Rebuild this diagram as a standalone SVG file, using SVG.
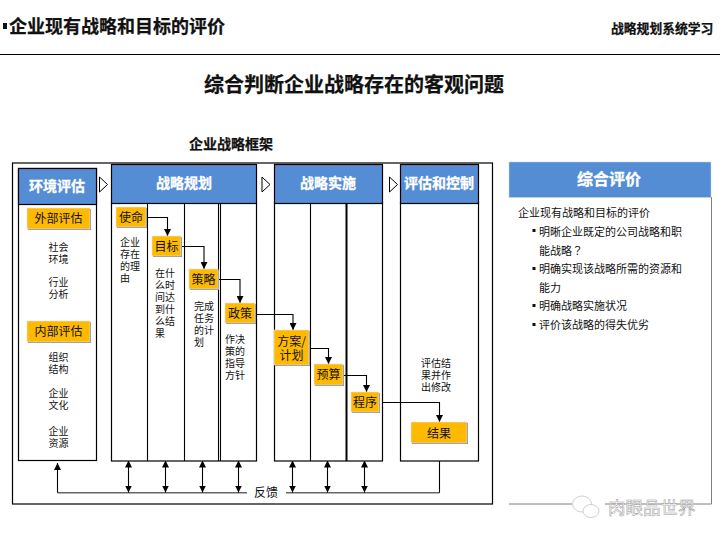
<svg xmlns="http://www.w3.org/2000/svg" width="720" height="540" viewBox="0 0 720 540">
<style>
text{font-family:"Noto Sans CJK SC","Liberation Sans",sans-serif;fill:#111}
.b{font-weight:700;stroke:#111;stroke-width:.25}
.c{text-anchor:middle}
.h{fill:#fff;font-weight:700;font-size:14px;text-anchor:middle;stroke:#fff;stroke-width:.3}
.t{font-size:10px}
.y{font-size:12px;text-anchor:middle}
.r{font-size:11px}
.box{fill:#fff;stroke:#000;stroke-width:1.2}
.hd{fill:#548DD4;stroke:#000;stroke-width:1.2}
.yb{fill:#FFBA00;stroke:#dfe3f2;stroke-width:.6}
.sh{fill:#8088A8}
.ln{fill:none;stroke:#000;stroke-width:1.1}
.fb{fill:none;stroke:#666;stroke-width:1.4}
.tri{fill:#fff;stroke:#000;stroke-width:1}
</style>
<defs>
<marker id="a" markerWidth="8" markerHeight="7" refX="7" refY="3.5" orient="auto" markerUnits="userSpaceOnUse"><path d="M0 0L7 3.5L0 7z" fill="#000"/></marker>
<marker id="s" markerWidth="8" markerHeight="7" refX="1" refY="3.5" orient="auto" markerUnits="userSpaceOnUse"><path d="M7 0L0 3.5L7 7z" fill="#000"/></marker>
</defs>
<rect width="720" height="540" fill="#fff"/>
<g id="header">
<rect x="3" y="23" width="4" height="6" fill="#111"/>
<text x="9" y="33" class="b" font-size="18">企业现有战略和目标的评价</text>
<text x="611" y="33" class="b" font-size="12.8">战略规划系统学习</text>
<line x1="0" y1="54.5" x2="720" y2="54.5" stroke="#000" stroke-width="1"/>
<text x="354" y="92" class="b c" font-size="20">综合判断企业战略存在的客观问题</text>
<text x="231" y="149" class="b c" font-size="14">企业战略框架</text>
</g>
<g id="frame"><rect x="12.5" y="163" width="480" height="341" fill="#fff" stroke="#000" stroke-width="1.2"/></g>
<g id="env">
<rect class="box" x="18.5" y="168.5" width="78" height="292"/>
<rect class="hd" x="18.5" y="168.5" width="78" height="36"/>
<text class="h" x="57" y="191">环境评估</text>
</g>
<g id="plan">
<rect class="box" x="111.5" y="203" width="145" height="258"/>
<rect class="hd" x="111.5" y="164.5" width="145" height="39"/>
<text class="h" x="184" y="188">战略规划</text>
<path class="ln" d="M147.5 203V461M184.5 203V461M218.5 203V461M220.5 203V461"/>
</g>
<g id="impl">
<rect class="box" x="274.5" y="203" width="108" height="258"/>
<rect class="hd" x="274.5" y="164.5" width="108" height="39"/>
<text class="h" x="328" y="188">战略实施</text>
<path class="ln" d="M310.5 203V461"/><path d="M346.5 203V461" fill="none" stroke="#000" stroke-width="2"/>
</g>
<g id="eval">
<rect class="box" x="400.5" y="203" width="78" height="258"/>
<rect class="hd" x="400.5" y="164.5" width="78" height="39"/>
<text class="h" x="439" y="188">评估和控制</text>
</g>
<g id="arrows-between">
<path class="tri" d="M99.5 177L107.5 184.5L99.5 192z"/>
<path class="tri" d="M262 177L270 184.5L262 192z"/>
<path class="tri" d="M389.5 177L397.5 184.5L389.5 192z"/>
</g>
<g id="connectors">
<path class="ln" marker-end="url(#a)" d="M146 217.5H167.5V236"/>
<path class="ln" marker-end="url(#a)" d="M181 246.5H204V269"/>
<path class="ln" marker-end="url(#a)" d="M218 279.5H240V303"/>
<path class="ln" marker-end="url(#a)" d="M255 314.5H293V330"/>
<path class="ln" marker-end="url(#a)" d="M309 348.5H328.5V364"/>
<path class="ln" marker-end="url(#a)" d="M343 375.5H366.5V392"/>
<path class="ln" marker-end="url(#a)" d="M382 402.5H439.5V422"/>
<path class="fb" d="M57.5 492.7H247M286 492.7H439.5"/>
<path class="ln" d="M439.5 461V492.7"/>
<path class="ln" marker-end="url(#a)" d="M57.5 492.7V463"/>
<path class="ln" marker-start="url(#s)" marker-end="url(#a)" d="M128.5 461.5V492.5"/>
<path class="ln" marker-start="url(#s)" marker-end="url(#a)" d="M165.5 461.5V492.5"/>
<path class="ln" marker-start="url(#s)" marker-end="url(#a)" d="M202.5 461.5V492.5"/>
<path class="ln" marker-start="url(#s)" marker-end="url(#a)" d="M238.5 461.5V492.5"/>
<path class="ln" marker-start="url(#s)" marker-end="url(#a)" d="M292.5 461.5V492.5"/>
<path class="ln" marker-start="url(#s)" marker-end="url(#a)" d="M327.5 461.5V492.5"/>
<path class="ln" marker-start="url(#s)" marker-end="url(#a)" d="M364.5 461.5V492.5"/>
</g>
<g id="n-ext"><rect class="sh" x="28" y="209" width="63" height="21"/><rect class="yb" x="27" y="208" width="63" height="21"/><text class="y" x="58.5" y="223">外部评估</text></g>
<g id="n-int"><rect class="sh" x="28" y="322" width="63" height="21"/><rect class="yb" x="27" y="321" width="63" height="21"/><text class="y" x="58.5" y="336">内部评估</text></g>
<g id="n-mission"><rect class="sh" x="117" y="208" width="30" height="20"/><rect class="yb" x="116" y="207" width="30" height="20"/><text class="y" x="131" y="221.5">使命</text></g>
<g id="n-goal"><rect class="sh" x="153" y="237" width="29" height="20"/><rect class="yb" x="152" y="236" width="29" height="20"/><text class="y" x="166.500" y="250.500">目标</text></g>
<g id="n-strategy"><rect class="sh" x="190" y="270" width="29" height="20"/><rect class="yb" x="189" y="269" width="29" height="20"/><text class="y" x="203.500" y="283.500">策略</text></g>
<g id="n-policy"><rect class="sh" x="226" y="304" width="30" height="20"/><rect class="yb" x="225" y="303" width="30" height="20"/><text class="y" x="240" y="318">政策</text></g>
<g id="n-program"><rect class="sh" x="275" y="331" width="35" height="35"/><rect class="yb" x="274" y="330" width="35" height="35"/><text class="y" x="291.500" y="346">方案/<tspan x="291.500" dy="14">计划</tspan></text></g>
<g id="n-budget"><rect class="sh" x="315" y="365" width="29" height="21"/><rect class="yb" x="314" y="364" width="29" height="21"/><text class="y" x="328.500" y="379">预算</text></g>
<g id="n-proc"><rect class="sh" x="352" y="393" width="28" height="20"/><rect class="yb" x="351" y="392" width="28" height="20"/><text class="y" x="365" y="406.500">程序</text></g>
<g id="n-result"><rect class="sh" x="412" y="423" width="56" height="21"/><rect class="yb" x="411" y="422" width="56" height="21"/><text class="y" x="439" y="437.500">结果</text></g>
<g id="labels">
<text class="t c" x="58.5" y="251">社会<tspan x="58.5" dy="12">环境</tspan></text>
<text class="t c" x="58.5" y="286">行业<tspan x="58.5" dy="12">分析</tspan></text>
<text class="t c" x="58.5" y="361">组织<tspan x="58.5" dy="12">结构</tspan></text>
<text class="t c" x="58.5" y="397">企业<tspan x="58.5" dy="12">文化</tspan></text>
<text class="t c" x="58.5" y="435">企业<tspan x="58.5" dy="12">资源</tspan></text>
<text class="t" x="120" y="246">企业<tspan x="120" dy="12">存在</tspan><tspan x="120" dy="12">的理</tspan><tspan x="120" dy="12">由</tspan></text>
<text class="t" x="155" y="277">在什<tspan x="155" dy="12">么时</tspan><tspan x="155" dy="12">间达</tspan><tspan x="155" dy="12">到什</tspan><tspan x="155" dy="12">么结</tspan><tspan x="155" dy="12">果</tspan></text>
<text class="t" x="194" y="310">完成<tspan x="194" dy="12">任务</tspan><tspan x="194" dy="12">的计</tspan><tspan x="194" dy="12">划</tspan></text>
<text class="t" x="225" y="343">作决<tspan x="225" dy="12">策的</tspan><tspan x="225" dy="12">指导</tspan><tspan x="225" dy="12">方针</tspan></text>
<text class="t" x="421" y="367">评估结<tspan x="421" dy="12">果并作</tspan><tspan x="421" dy="12">出修改</tspan></text>
<text x="266" y="497" class="c" font-size="12">反馈</text>
</g>
<g id="summary">
<path d="M711.5 197V504H509" fill="none" stroke="#808080" stroke-width="1"/>
<rect x="509" y="162" width="202" height="35.5" fill="#548DD4" stroke="#c8d4e8" stroke-width=".5"/>
<text x="609" y="185" class="c" font-size="16" font-weight="700" style="fill:#fff;stroke:#fff;stroke-width:.3">综合评价</text>
<text class="r" x="518" y="217">企业现有战略和目标的评价</text>
<rect x="532.5" y="229" width="3" height="3" fill="#111"/>
<text class="r" x="539" y="236">明晰企业既定的公司战略和职<tspan x="539" dy="18.500">能战略<tspan font-family="Noto Sans CJK TC">？</tspan></tspan></text>
<rect x="532.5" y="267" width="3" height="3" fill="#111"/>
<text class="r" x="539" y="273">明确实现该战略所需的资源和<tspan x="539" dy="18.500">能力</tspan></text>
<rect x="532.5" y="304" width="3" height="3" fill="#111"/>
<text class="r" x="539" y="310">明确战略实施状况</text>
<rect x="532.5" y="323" width="3" height="3" fill="#111"/>
<text class="r" x="539" y="329">评价该战略的得失优劣</text>
</g>
<g id="watermark">
<rect x="572" y="494" width="33" height="28" fill="#fff"/>
<ellipse cx="582" cy="504" rx="9.5" ry="8" fill="#fff" stroke="#bbb" stroke-width=".7"/>
<ellipse cx="591" cy="511" rx="8" ry="6.5" fill="#fff" stroke="#bbb" stroke-width=".7"/>
<text x="608" y="514" font-size="17.5" style="fill:#fff;stroke:#999;stroke-width:.5">肉眼品世界</text>
</g>
</svg>
